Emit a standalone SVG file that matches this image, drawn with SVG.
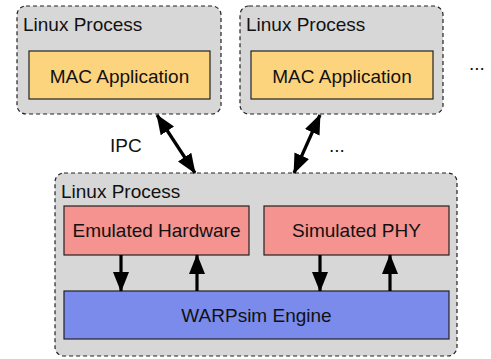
<svg xmlns="http://www.w3.org/2000/svg" width="491" height="359" viewBox="0 0 491 359">
<defs>
<style>
.proc{fill:#d7d7d7;stroke:#222;stroke-width:1.2;stroke-dasharray:4,3}
.box{stroke:#222;stroke-width:1.2}
.mac{fill:#fdd47e}
.hw{fill:#f4938f}
.eng{fill:#7b8bec}
text{font-family:"Liberation Sans",Arial,sans-serif;font-size:19px;fill:#111}
.c{text-anchor:middle}
.arr{stroke:#000;stroke-width:3.2;fill:none}
</style>
<marker id="ah" viewBox="0 0 20 16" markerWidth="20" markerHeight="16" refX="19" refY="8" markerUnits="userSpaceOnUse" orient="auto-start-reverse">
<path d="M0,0 L20,8 L0,16 z" fill="#000"/>
</marker>
</defs>
<g id="proc1">
<rect class="proc" x="17" y="6" width="204" height="108" rx="9"/>
<text x="23" y="31">Linux Process</text>
</g>
<g id="mac1">
<rect class="box mac" x="29" y="51" width="181" height="48"/>
<text class="c" x="119.5" y="83">MAC Application</text>
</g>
<g id="proc2">
<rect class="proc" x="240" y="6" width="203" height="108" rx="9"/>
<text x="246" y="31">Linux Process</text>
</g>
<g id="mac2">
<rect class="box mac" x="251" y="51" width="182" height="48"/>
<text class="c" x="342" y="83">MAC Application</text>
</g>
<g id="more1"><text x="469" y="70">...</text></g>
<g id="proc3">
<rect class="proc" x="55" y="173" width="402" height="183" rx="9"/>
<text x="61" y="198">Linux Process</text>
</g>
<g id="emhw">
<rect class="box hw" x="64" y="206" width="185" height="49"/>
<text class="c" x="156.5" y="237">Emulated Hardware</text>
</g>
<g id="simphy">
<rect class="box hw" x="264" y="206" width="185" height="49"/>
<text class="c" x="356.5" y="237">Simulated PHY</text>
</g>
<g id="engine">
<rect class="box eng" x="64" y="291" width="385" height="48"/>
<text class="c" x="256.5" y="322">WARPsim Engine</text>
</g>
<g id="labels">
<text x="110" y="152">IPC</text>
<text x="329" y="152">...</text>
</g>
<g id="connectors">
<line class="arr" x1="157" y1="115" x2="195" y2="173" marker-start="url(#ah)" marker-end="url(#ah)"/>
<line class="arr" x1="320" y1="115" x2="294" y2="173" marker-start="url(#ah)" marker-end="url(#ah)"/>
<line class="arr" x1="121" y1="255" x2="121" y2="291" marker-end="url(#ah)"/>
<line class="arr" x1="197" y1="291" x2="197" y2="255" marker-end="url(#ah)"/>
<line class="arr" x1="320" y1="255" x2="320" y2="291" marker-end="url(#ah)"/>
<line class="arr" x1="390" y1="291" x2="390" y2="255" marker-end="url(#ah)"/>
</g>
</svg>
